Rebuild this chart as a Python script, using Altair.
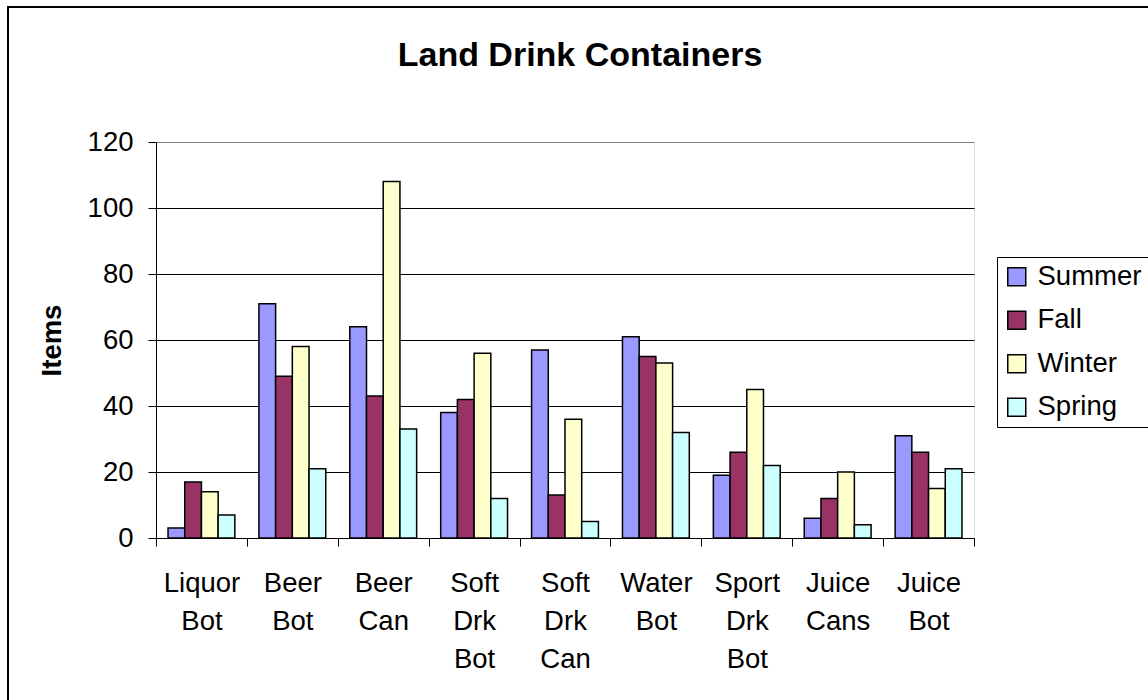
import altair as alt
import pandas as pd

# Land drink container counts by season
categories = ["Liquor Bot", "Beer Bot", "Beer Can", "Soft Drk Bot", "Soft Drk Can",
              "Water Bot", "Sport Drk Bot", "Juice Cans", "Juice Bot"]
seasons = ["Summer", "Fall", "Winter", "Spring"]
summer = [3, 71, 64, 38, 57, 61, 19, 6, 31]
fall = [17, 49, 43, 42, 13, 55, 26, 12, 26]
winter = [14, 58, 108, 56, 36, 53, 45, 20, 15]
spring = [7, 21, 33, 12, 5, 32, 22, 4, 21]
season_colors = ["#9999FF", "#993366", "#FFFFCC", "#CCFFFF"]
y_ticks = [0, 20, 40, 60, 80, 100, 120]
chart_title = "Land Drink Containers"

FONT = "Liberation Sans"

rows = []
for season, values in zip(seasons, [summer, fall, winter, spring]):
    for cat, v in zip(categories, values):
        rows.append({"Container": cat, "Season": season, "Items": v})
df = pd.DataFrame(rows)

W, H = 818, 396

bars = alt.Chart(df).mark_bar(stroke="black", strokeWidth=1.5).encode(
    x=alt.X("Container:N", sort=categories,
            scale=alt.Scale(paddingInner=0, paddingOuter=0),
            axis=alt.Axis(title=None, labelAngle=0,
                          labelExpr="split(datum.label, ' ')",
                          labelLineHeight=38, labelFontSize=27.5, labelFont=FONT,
                          labelColor="black", labelPadding=23,
                          tickBand="extent", tickSize=8, tickColor="black",
                          domainColor="black", grid=False)),
    xOffset=alt.XOffset("Season:N", sort=seasons,
                        scale=alt.Scale(paddingInner=0, paddingOuter=0.72)),
    y=alt.Y("Items:Q", scale=alt.Scale(domain=[0, 120], nice=False),
            axis=alt.Axis(values=y_ticks, title="Items", titleFont=FONT,
                          titleFontSize=27.5, titleFontWeight="bold",
                          titleColor="black", titlePadding=21,
                          labelFont=FONT, labelFontSize=27.5, labelColor="black",
                          labelPadding=15, tickSize=8, tickColor="black",
                          domainColor="black",
                          gridColor={"condition": {"test": "datum.value === 120",
                                                   "value": "#808080"},
                                     "value": "black"},
                          gridWidth=1)),
    color=alt.Color("Season:N", sort=seasons,
                    scale=alt.Scale(domain=seasons, range=season_colors),
                    legend=alt.Legend(title=None, orient="none",
                                      legendX=841, legendY=115,
                                      strokeColor="black", fillColor="white",
                                      padding=6, symbolType="square",
                                      symbolSize=324, symbolStrokeColor="black",
                                      symbolStrokeWidth=1.5,
                                      labelFont=FONT, labelFontSize=27.5,
                                      labelColor="black", labelOffset=7,
                                      rowPadding=14.5)),
)

one_row = pd.DataFrame({"k": [0]})

# outer chart frame
frame = alt.Chart(one_row).mark_rect(
    fill=None, stroke="black", strokeWidth=2
).encode(
    x=alt.value(-148), y=alt.value(-135), x2=alt.value(1200), y2=alt.value(800)
)

# chart heading
heading = alt.Chart(one_row).mark_text(
    text=chart_title, font=FONT, fontSize=34, fontWeight="bold", color="black",
    align="center", baseline="alphabetic"
).encode(x=alt.value(W / 2 + 15), y=alt.value(-76))

chart = alt.layer(frame, bars, heading).properties(
    width=W, height=H,
    autosize=alt.AutoSizeParams(type="none"),
    padding={"left": 156, "top": 142, "right": 174, "bottom": 162},
).configure_view(stroke="#808080", strokeWidth=1.5).configure(background="white")

chart.save("out.html", embed_options={"renderer": "svg", "actions": False})
